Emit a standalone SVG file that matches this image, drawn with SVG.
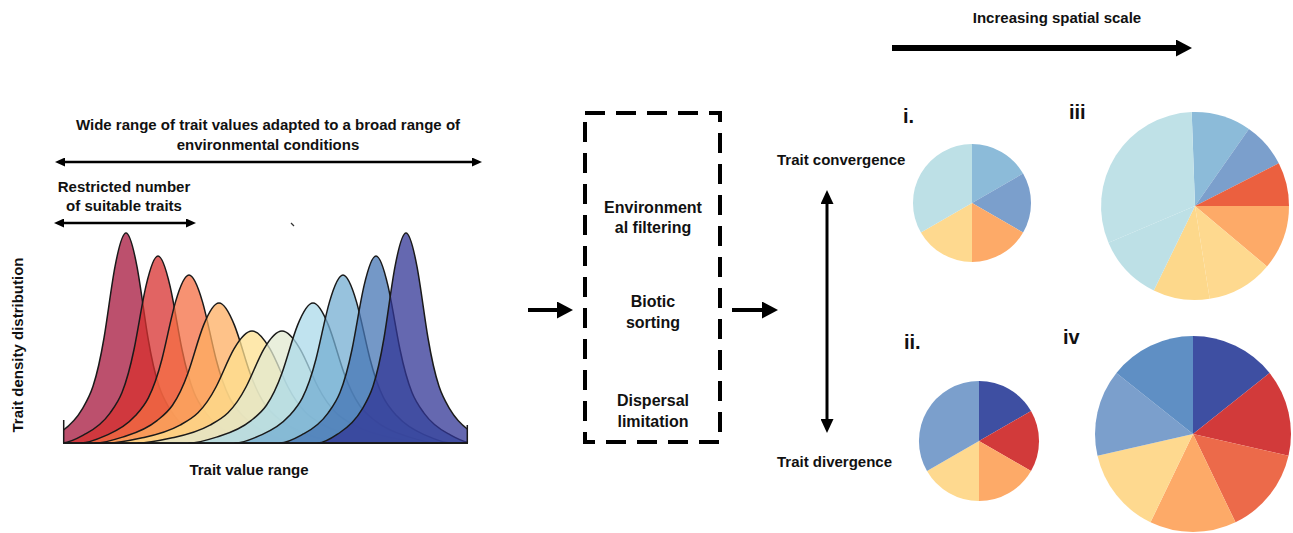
<svg xmlns="http://www.w3.org/2000/svg" width="1293" height="533" viewBox="0 0 1293 533">
<style>
text{font-family:"Liberation Sans",Arial,sans-serif;font-weight:bold;fill:#111;}
.t15{font-size:15px;}
.t16{font-size:16px;}
.lab{font-size:20px;}
.mid{text-anchor:middle;}
.curve{fill-opacity:0.75;}
.ln{stroke:#000;fill:none;}
.box{fill:none;stroke:#000;stroke-width:4;stroke-dasharray:20 11;}
</style>
<defs>
<marker id="aS" viewBox="0 0 10 9" markerUnits="userSpaceOnUse" markerWidth="10" markerHeight="9" refX="1" refY="4.5" orient="auto-start-reverse"><path d="M0,0 L10,4.5 L0,9 Z" fill="#000"/></marker>
<marker id="aM" viewBox="0 0 14 13" markerUnits="userSpaceOnUse" markerWidth="14" markerHeight="13" refX="1" refY="6.5" orient="auto-start-reverse"><path d="M0,0 L14,6.5 L0,13 Z" fill="#000"/></marker>
<marker id="aL" viewBox="0 0 16 17" markerUnits="userSpaceOnUse" markerWidth="16" markerHeight="17" refX="1" refY="8.5" orient="auto-start-reverse"><path d="M0,0 L16,8.5 L0,17 Z" fill="#000"/></marker>
<path id="bell" stroke="#1a1a1a" stroke-width="1.5" stroke-linejoin="round" vector-effect="non-scaling-stroke" d="M-4,0 C-3.6667,0 -3.3333,0.0267 -3,0.05 C-2.6667,0.0733 -2.3333,0.10 -2,0.16 C-1.8333,0.19 -1.6667,0.2167 -1.5,0.27 C-1.3333,0.3233 -1.1667,0.3967 -1,0.5 C-0.8333,0.6033 -0.6667,0.7483 -0.5,0.84 C-0.3333,0.9317 -0.1667,1 0,1 C0.1667,1 0.3333,0.9317 0.5,0.84 C0.6667,0.7483 0.8333,0.6033 1,0.5 C1.1667,0.3967 1.3333,0.3233 1.5,0.27 C1.6667,0.2167 1.8333,0.19 2,0.16 C2.3333,0.10 2.6667,0.0733 3,0.05 C3.3333,0.0267 3.6667,0 4,0 Z"/>
<clipPath id="plot"><rect x="63" y="150" width="405" height="294"/></clipPath>
</defs>
<rect width="1293" height="533" fill="#fff"/>

<g id="distributions" clip-path="url(#plot)">
<use href="#bell" class="curve" fill="#a5163c" transform="translate(126,443) scale(22,-210)"/>
<use href="#bell" class="curve" fill="#d7302f" transform="translate(158,443) scale(24,-187)"/>
<use href="#bell" class="curve" fill="#f46d43" transform="translate(189,443) scale(27,-168)"/>
<use href="#bell" class="curve" fill="#fdae61" transform="translate(219,443) scale(31,-140)"/>
<use href="#bell" class="curve" fill="#fee090" transform="translate(252,443) scale(36,-112)"/>
<use href="#bell" class="curve" fill="#e2e9d0" transform="translate(282,443) scale(36,-112)"/>
<use href="#bell" class="curve" fill="#abd9e9" transform="translate(313,443) scale(31,-140)"/>
<use href="#bell" class="curve" fill="#74add1" transform="translate(343,443) scale(27,-168)"/>
<use href="#bell" class="curve" fill="#4575b4" transform="translate(376,443) scale(24,-187)"/>
<use href="#bell" class="curve" fill="#313695" transform="translate(406,443) scale(22,-210)"/>
</g>
<g id="plot-frame">
<line x1="63.7" y1="420" x2="63.7" y2="443" stroke="#1a1a1a" stroke-width="1.5"/>
<line x1="467.3" y1="425" x2="467.3" y2="443" stroke="#1a1a1a" stroke-width="1.5"/>
<line x1="63" y1="443" x2="468" y2="443" stroke="#1a1a1a" stroke-width="1.6"/>
</g>

<g id="labels-left">
<text class="t15 mid" x="268" y="130">Wide range of trait values adapted to a broad range of</text>
<text class="t15 mid" x="268" y="150">environmental conditions</text>
<text class="t15 mid" x="124" y="192">Restricted number</text>
<text class="t15 mid" x="124" y="211">of suitable traits</text>
<text class="t15 mid" x="249" y="475">Trait value range</text>
<text class="t15 mid" transform="translate(23,345) rotate(-90)">Trait density distribution</text>
<line x1="291" y1="223" x2="294" y2="226" stroke="#333" stroke-width="1.2"/>
</g>

<g id="process-box">
<rect class="box" x="585" y="113" width="135" height="329"/>
<text class="t16 mid" x="653" y="212.5">Environment</text>
<text class="t16 mid" x="653" y="233">al filtering</text>
<text class="t16 mid" x="653" y="307">Biotic</text>
<text class="t16 mid" x="653" y="328">sorting</text>
<text class="t16 mid" x="653" y="405.5">Dispersal</text>
<text class="t16 mid" x="653" y="426.5">limitation</text>
</g>

<g id="trait-labels">
<text class="t15" x="777" y="165">Trait convergence</text>
<text class="t15" x="777" y="467">Trait divergence</text>
<text class="t15 mid" x="1057" y="23">Increasing spatial scale</text>
</g>

<g id="connectors">
<line class="ln" stroke-width="2.5" x1="64" y1="162" x2="473" y2="162" marker-start="url(#aS)" marker-end="url(#aS)"/>
<line class="ln" stroke-width="2.5" x1="63" y1="223" x2="187" y2="223" marker-start="url(#aS)" marker-end="url(#aS)"/>
<line class="ln" stroke-width="3" x1="827" y1="203" x2="827" y2="420" marker-start="url(#aM)" marker-end="url(#aM)"/>
<line class="ln" stroke-width="4" x1="528" y1="310" x2="558" y2="310" marker-end="url(#aL)"/>
<line class="ln" stroke-width="4" x1="732" y1="310" x2="763" y2="310" marker-end="url(#aL)"/>
<line class="ln" stroke-width="6" x1="892" y1="48" x2="1177" y2="48" marker-end="url(#aL)"/>
</g>

<g id="pie-i">
<text class="lab" x="903" y="123">i.</text>
<path fill="#8cbbd9" d="M972,203 L972,144 A59,59 0 0 1 1023.1,173.5 Z"/>
<path fill="#7b9fcc" d="M972,203 L1023.1,173.5 A59,59 0 0 1 1023.1,232.5 Z"/>
<path fill="#fdaa68" d="M972,203 L1023.1,232.5 A59,59 0 0 1 972,262 Z"/>
<path fill="#fed98f" d="M972,203 L972,262 A59,59 0 0 1 920.9,232.5 Z"/>
<path fill="#bde0e6" d="M972,203 L920.9,232.5 A59,59 0 0 1 972,144 Z"/>
</g>

<g id="pie-ii">
<text class="lab" x="904" y="349">ii.</text>
<path fill="#3e4fa2" d="M979,441 L979,381 A60,60 0 0 1 1031,411 Z"/>
<path fill="#d23a3a" d="M979,441 L1031,411 A60,60 0 0 1 1031,471 Z"/>
<path fill="#fdaa68" d="M979,441 L1031,471 A60,60 0 0 1 979,501 Z"/>
<path fill="#fed98f" d="M979,441 L979,501 A60,60 0 0 1 927,471 Z"/>
<path fill="#7b9fcc" d="M979,441 L927,471 A60,60 0 0 1 979,381 Z"/>
</g>

<g id="pie-iii">
<text class="lab" x="1069" y="119">iii</text>
<path fill="#8cbbd9" d="M1195,206 L1191.7,112.1 A94,94 0 0 1 1248.9,129 Z"/>
<path fill="#7b9fcc" d="M1195,206 L1248.9,129 A94,94 0 0 1 1278.8,163.3 Z"/>
<path fill="#eb603f" d="M1195,206 L1278.8,163.3 A94,94 0 0 1 1289,206 Z"/>
<path fill="#fdaa68" d="M1195,206 L1289,206 A94,94 0 0 1 1267,266.4 Z"/>
<path fill="#fed98f" d="M1195,206 L1267,266.4 A94,94 0 0 1 1209.7,298.8 Z"/>
<path fill="#fdd88b" d="M1195,206 L1209.7,298.8 A94,94 0 0 1 1153.8,290.5 Z"/>
<path fill="#bde0e6" d="M1195,206 L1153.8,290.5 A94,94 0 0 1 1108.5,242.7 Z"/>
<path fill="#bfe1e7" d="M1195,206 L1108.5,242.7 A94,94 0 0 1 1191.7,112.1 Z"/>
</g>

<g id="pie-iv">
<text class="lab" x="1063" y="344">iv</text>
<path fill="#3e4fa2" d="M1193,434 L1193,336 A98,98 0 0 1 1269.6,372.9 Z"/>
<path fill="#d23a3a" d="M1193,434 L1269.6,372.9 A98,98 0 0 1 1288.5,455.8 Z"/>
<path fill="#ec6a4a" d="M1193,434 L1288.5,455.8 A98,98 0 0 1 1235.5,522.3 Z"/>
<path fill="#fdaa68" d="M1193,434 L1235.5,522.3 A98,98 0 0 1 1150.5,522.3 Z"/>
<path fill="#fed98f" d="M1193,434 L1150.5,522.3 A98,98 0 0 1 1097.5,455.8 Z"/>
<path fill="#7b9fcc" d="M1193,434 L1097.5,455.8 A98,98 0 0 1 1116.4,372.9 Z"/>
<path fill="#5f8fc4" d="M1193,434 L1116.4,372.9 A98,98 0 0 1 1193,336 Z"/>
</g>
</svg>
